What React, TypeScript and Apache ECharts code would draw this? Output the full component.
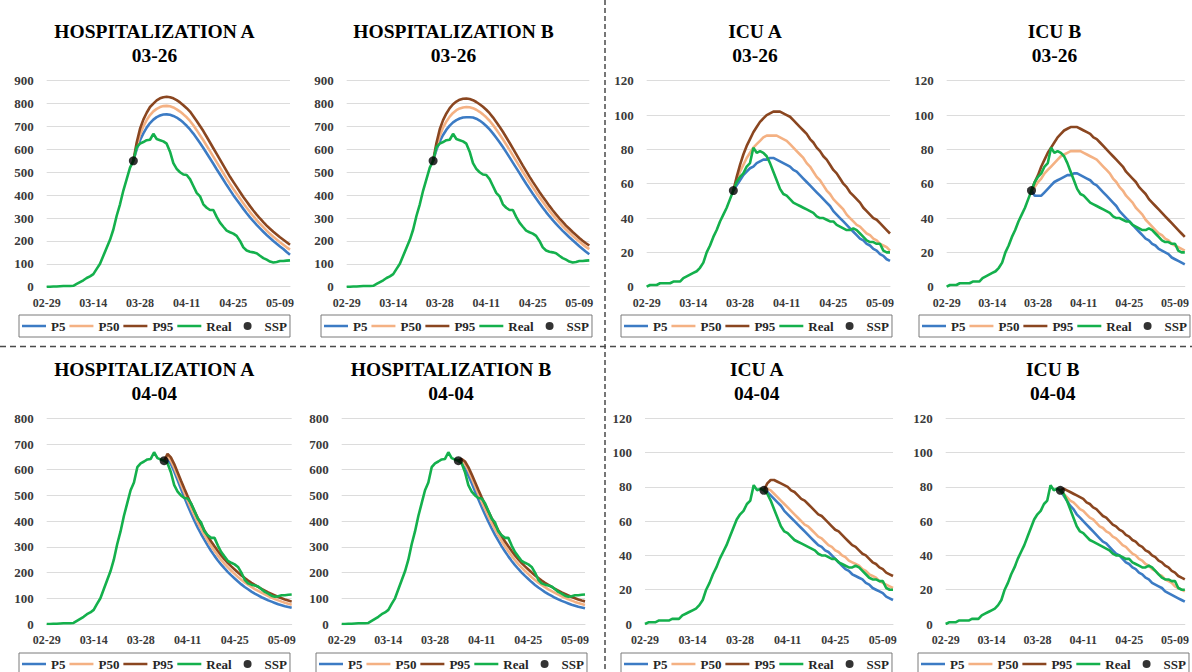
import React, { useEffect, useRef } from "react";
import * as echarts from "echarts";

const dates = [
  "02-29",
  "03-01","03-02","03-03","03-04","03-05","03-06","03-07","03-08","03-09","03-10",
  "03-11","03-12","03-13","03-14","03-15","03-16","03-17","03-18","03-19","03-20",
  "03-21","03-22","03-23","03-24","03-25","03-26","03-27","03-28","03-29","03-30","03-31",
  "04-01","04-02","04-03","04-04","04-05","04-06","04-07","04-08","04-09","04-10",
  "04-11","04-12","04-13","04-14","04-15","04-16","04-17","04-18","04-19","04-20",
  "04-21","04-22","04-23","04-24","04-25","04-26","04-27","04-28","04-29","04-30",
  "05-01","05-02","05-03","05-04","05-05","05-06","05-07","05-08","05-09","05-10","05-11","05-12",
];

const realHosp = [
  0, 0, 1, 1, 2, 3, 3, 3, 4, 12,
  20, 28, 38, 45, 55, 78, 100, 135, 170, 205,
  250, 310, 360, 420, 470, 520, 550, 610, 625, 632,
  640, 642, 668, 645, 640, 635, 625, 590, 540, 515,
  500, 490, 488, 470, 440, 410, 395, 360, 345, 335,
  335, 305, 280, 262, 245, 238, 232, 222, 200, 172,
  158, 153, 150, 146, 135, 125, 118, 110, 106, 108,
  112, 112, 114, 115,
];

const realICU = [
  0, 1, 1, 1, 2, 2, 2, 2, 3, 3,
  3, 5, 6, 7, 8, 9, 11, 14, 20, 24,
  29, 33, 38, 42, 46, 51, 56, 61, 64, 66,
  70, 72, 81, 78, 79, 78, 76, 72, 67, 62,
  57, 54, 53, 51, 49, 48, 47, 46, 45, 44,
  43, 41, 40, 40, 39, 38, 38, 36, 35, 34,
  33, 33, 34, 33, 31, 29, 27, 26, 26, 25,
  25, 21, 20, 20,
];

// Projections issued on 03-26 (values from 03-26 to 05-12)
const hospA1_P5 = [550,600,640,670,695,715,730,741,748,752,753,751,746,739,729,717,703,687,669,649,628,606,583,560,537,513,490,467,444,422,400,380,360,340,321,303,286,270,255,240,226,213,200,188,176,165,152,140];
const hospA1_P50 = [550,615,665,700,728,750,766,777,785,789,790,788,783,775,765,753,740,724,705,684,662,640,616,592,568,544,520,496,472,449,427,406,385,365,345,326,308,291,275,260,245,231,218,206,194,183,172,162];
const hospA1_P95 = [550,630,690,730,760,785,800,814,823,828,830,828,823,815,805,793,780,765,745,724,702,680,655,630,605,580,555,530,505,480,458,436,414,392,372,352,333,315,298,282,267,253,240,228,216,205,194,183];

const hospB1_P5 = [550,598,635,663,686,704,718,728,735,739,740,740,739,734,726,715,702,687,670,651,631,610,588,565,542,519,496,473,450,428,406,385,365,345,326,308,291,275,259,244,230,216,203,190,177,165,153,142];
const hospB1_P50 = [550,612,660,695,722,743,759,771,779,783,785,784,780,773,764,753,740,725,707,687,666,644,621,598,574,550,526,502,479,456,434,412,391,371,351,332,314,297,281,265,250,236,222,209,197,185,174,164];
const hospB1_P95 = [550,628,688,728,757,780,797,809,817,821,822,820,815,807,797,786,773,758,740,720,699,677,653,629,604,579,554,529,505,481,458,436,414,393,373,353,334,316,299,283,267,253,239,226,213,201,190,180];

const icuA1_P5 = [56,59,62,65,67,69,70,72,73,74,74,75,75,74,73,72,71,70,68,67,65,63,61,59,57,55,53,51,49,47,44,42,40,38,36,34,32,30,28,27,25,24,22,21,19,18,16,15];
const icuA1_P50 = [56,62,67,71,75,78,81,83,85,87,88,88,88,88,87,86,85,83,81,79,77,75,72,70,67,64,62,59,56,54,51,49,47,45,42,40,38,36,35,33,31,30,28,27,25,24,23,21];
const icuA1_P95 = [56,64,71,77,82,86,90,93,96,98,100,101,102,102,102,101,100,99,97,95,93,91,89,86,84,81,79,76,74,71,68,66,63,60,58,55,53,51,49,46,44,42,40,39,37,35,33,31];

const icuB1_P5 = [56,53,53,53,55,57,59,61,62,63,64,65,65,66,66,65,64,63,62,60,59,57,55,53,51,49,47,44,42,40,38,36,34,32,30,28,27,25,24,22,21,20,19,17,16,15,14,13];
const icuB1_P50 = [56,58,61,63,66,68,70,72,74,76,77,78,79,79,79,79,78,77,76,75,74,72,70,68,66,63,61,58,56,53,51,49,46,44,42,39,37,35,33,31,30,28,27,25,24,23,22,21];
const icuB1_P95 = [56,61,65,70,74,78,81,84,87,89,91,92,93,93,93,92,91,90,89,87,86,84,82,80,78,76,74,72,70,67,65,63,61,58,56,54,51,49,47,45,43,41,39,37,35,33,31,29];

// Projections issued on 04-04 (values from 04-04 to 05-12)
const hospA2_P5 = [635,640,622,593,560,526,493,461,431,402,375,350,327,305,284,265,247,231,216,202,189,177,165,154,144,135,126,118,111,104,98,92,87,82,77,73,69,66,63];
const hospA2_P50 = [635,650,635,608,576,543,511,480,450,422,395,370,346,324,303,284,266,249,234,220,207,195,183,172,162,153,144,136,129,122,115,109,103,97,92,87,83,79,75];
const hospA2_P95 = [635,662,648,622,590,558,527,497,468,440,413,388,364,342,321,302,284,267,251,237,224,212,200,189,179,169,160,152,144,137,130,123,117,111,105,100,95,91,87];

const hospB2_P5 = [635,625,605,578,548,516,485,455,426,398,372,347,324,302,282,263,245,229,214,200,187,175,163,152,142,133,124,116,109,102,96,90,85,80,75,71,67,64,61];
const hospB2_P50 = [635,635,622,598,568,537,506,476,447,419,393,368,345,323,302,283,265,248,233,219,206,194,182,171,161,152,143,135,128,121,114,108,102,96,91,86,82,78,74];
const hospB2_P95 = [635,642,632,610,582,552,522,493,465,438,412,387,364,342,321,302,284,267,251,237,224,212,200,189,179,169,160,152,144,137,130,123,117,111,105,100,95,91,88];

const icuA2_P5 = [78,77,75,73,71,69,66,64,62,60,58,56,54,52,50,48,46,45,43,42,40,38,36,34,32,31,29,28,27,26,24,23,21,20,19,18,16,15,14];
const icuA2_P50 = [78,79,78,76,74,72,70,68,66,64,62,60,58,57,55,53,51,50,48,46,45,43,42,40,39,37,36,35,34,32,31,29,28,27,25,24,23,22,21];
const icuA2_P95 = [78,82,84,84,83,82,81,80,78,77,75,73,72,70,68,66,64,63,61,59,57,55,54,52,50,48,46,45,43,41,40,38,36,35,33,32,30,29,28];

const icuB2_P5 = [78,75,72,69,67,64,62,60,58,56,54,52,50,48,47,45,43,41,40,38,36,35,33,32,30,29,27,26,24,23,22,21,19,18,17,16,15,14,13];
const icuB2_P50 = [78,76,74,72,71,69,67,66,64,62,61,59,57,56,54,53,51,50,48,46,45,43,41,40,38,37,35,34,32,31,29,28,26,25,24,22,21,20,19];
const icuB2_P95 = [78,79,78,77,76,75,74,73,71,70,68,67,65,63,62,60,58,57,55,54,52,51,49,48,46,45,43,42,40,39,37,36,34,33,31,30,28,27,26];

const legendNames = ["P5", "P50", "P95", "Real", "SSP"];
const xTickStep = 14;

const COLORS: Record<string, string> = {
  P5: "#3c7bc4",
  P50: "#f4b183",
  P95: "#8a4620",
  Real: "#14b04c",
  SSP: "#000000",
};

// legend icons: a 24x8 box holding either a centred bar or a centred dot
const LINE_ICON = "path://M0,0L0.001,0M0,8L0.001,8M0,2.7L24,2.7L24,5.3L0,5.3Z";
const DOT_ICON = "path://M0,4L0.001,4M24,4L23.999,4M8,4A4,4 0 1 1 16,4A4,4 0 1 1 8,4Z";

type Panel = {
  title: string;
  date: string;
  real: number[];
  p5: number[];
  p50: number[];
  p95: number[];
  sspValue: number;
  yMax: number;
  yInterval: number;
  layout: { left: number; top: number; width: number; height: number; titleX: number; titleY: number; legendLeft: number; legendTop: number };
};

const panels: Panel[] = [
  { title: "HOSPITALIZATION A", date: "03-26", real: realHosp, p5: hospA1_P5, p50: hospA1_P50, p95: hospA1_P95, sspValue: 550, yMax: 900, yInterval: 100,
    layout: { left: 46.7, top: 80.7, width: 243.3, height: 206, titleX: 154.5, titleY: 31.7, legendLeft: 19, legendTop: 315 } },
  { title: "HOSPITALIZATION B", date: "03-26", real: realHosp, p5: hospB1_P5, p50: hospB1_P50, p95: hospB1_P95, sspValue: 550, yMax: 900, yInterval: 100,
    layout: { left: 346.7, top: 80.7, width: 242.6, height: 206, titleX: 453.5, titleY: 31.7, legendLeft: 321, legendTop: 315 } },
  { title: "ICU A", date: "03-26", real: realICU, p5: icuA1_P5, p50: icuA1_P50, p95: icuA1_P95, sspValue: 56, yMax: 120, yInterval: 20,
    layout: { left: 646.7, top: 80.7, width: 243.3, height: 206, titleX: 755, titleY: 31.7, legendLeft: 621, legendTop: 315 } },
  { title: "ICU B", date: "03-26", real: realICU, p5: icuB1_P5, p50: icuB1_P50, p95: icuB1_P95, sspValue: 56, yMax: 120, yInterval: 20,
    layout: { left: 946.7, top: 80.7, width: 240, height: 206, titleX: 1054.5, titleY: 31.7, legendLeft: 919, legendTop: 315 } },
  { title: "HOSPITALIZATION A", date: "04-04", real: realHosp, p5: hospA2_P5, p50: hospA2_P50, p95: hospA2_P95, sspValue: 635, yMax: 800, yInterval: 100,
    layout: { left: 46.7, top: 418.3, width: 245, height: 205.7, titleX: 154.3, titleY: 369.5, legendLeft: 19, legendTop: 653 } },
  { title: "HOSPITALIZATION B", date: "04-04", real: realHosp, p5: hospB2_P5, p50: hospB2_P50, p95: hospB2_P95, sspValue: 635, yMax: 800, yInterval: 100,
    layout: { left: 341.7, top: 418.3, width: 243.3, height: 205.7, titleX: 451, titleY: 369.5, legendLeft: 316, legendTop: 653 } },
  { title: "ICU A", date: "04-04", real: realICU, p5: icuA2_P5, p50: icuA2_P50, p95: icuA2_P95, sspValue: 78, yMax: 120, yInterval: 20,
    layout: { left: 645, top: 418.3, width: 248, height: 205.7, titleX: 756.7, titleY: 369.5, legendLeft: 621, legendTop: 653 } },
  { title: "ICU B", date: "04-04", real: realICU, p5: icuB2_P5, p50: icuB2_P50, p95: icuB2_P95, sspValue: 78, yMax: 120, yInterval: 20,
    layout: { left: 945.7, top: 418.3, width: 239.5, height: 205.7, titleX: 1052.8, titleY: 369.5, legendLeft: 918, legendTop: 653 } },
];

const SERIF = "'Liberation Serif', 'Times New Roman', serif";

function fromDate(values: number[], start: string) {
  const s = dates.indexOf(start);
  return dates.map((_, i) => (i < s || i - s >= values.length ? "-" : values[i - s]));
}

function buildOption() {
  const grid: any[] = [];
  const xAxis: any[] = [];
  const yAxis: any[] = [];
  const series: any[] = [];
  const legend: any[] = [];
  const graphic: any[] = [];

  panels.forEach((p, k) => {
    const L = p.layout;
    grid.push({ left: L.left, top: L.top, width: L.width, height: L.height, containLabel: false });
    xAxis.push({
      type: "category",
      gridIndex: k,
      data: dates,
      boundaryGap: false,
      axisTick: { show: false },
      axisLine: { show: true, lineStyle: { color: "#d9d9d9", width: 1 } },
      axisLabel: {
        interval: xTickStep - 1,
        margin: 10,
        fontFamily: SERIF,
        fontWeight: "bold",
        fontSize: 12,
        color: "#3a3a3a",
      },
      splitLine: { show: false },
    });
    yAxis.push({
      type: "value",
      gridIndex: k,
      min: 0,
      max: p.yMax,
      interval: p.yInterval,
      axisLine: { show: false },
      axisTick: { show: false },
      axisLabel: { margin: 13, fontFamily: SERIF, fontWeight: "bold", fontSize: 13, color: "#3a3a3a" },
      splitLine: { show: true, lineStyle: { color: "#dcdcdc", width: 1 } },
    });
    const mk = (name: string, data: any[], color: string) => ({
      type: "line",
      name,
      xAxisIndex: k,
      yAxisIndex: k,
      data,
      symbol: "none",
      showSymbol: false,
      smooth: false,
      lineStyle: { color, width: 2.6 },
      itemStyle: { color },
      emphasis: { disabled: true },
      silent: true,
    });
    series.push(mk("P5", fromDate(p.p5, p.date), COLORS.P5));
    series.push(mk("P50", fromDate(p.p50, p.date), COLORS.P50));
    series.push(mk("P95", fromDate(p.p95, p.date), COLORS.P95));
    series.push(mk("Real", p.real, COLORS.Real));
    series.push({
      type: "scatter",
      name: "SSP",
      xAxisIndex: k,
      yAxisIndex: k,
      data: [[p.date, p.sspValue]],
      symbol: "circle",
      symbolSize: 9,
      itemStyle: { color: COLORS.SSP },
      silent: true,
      z: 5,
    });
    legend.push({
      data: legendNames.map((n) => ({
        name: n,
        icon: n === "SSP" ? DOT_ICON : LINE_ICON,
        itemStyle: { color: COLORS[n], borderWidth: 0 },
      })),
      left: L.legendLeft,
      top: L.legendTop,
      orient: "horizontal",
      itemWidth: 24,
      itemHeight: 8,
      itemGap: 4,
      padding: [4, 3],
      borderColor: "#7a7a7a",
      borderWidth: 1,
      selectedMode: false,
      textStyle: { fontFamily: SERIF, fontWeight: "bold", fontSize: 13, color: "#262626", lineHeight: 14 },
    });
    graphic.push({
      type: "text",
      x: L.titleX,
      y: L.titleY,
      style: { text: p.title, fontFamily: SERIF, fontWeight: "bold", fontSize: 19.5, fill: "#000", align: "center", verticalAlign: "middle" },
      silent: true,
    });
    graphic.push({
      type: "text",
      x: L.titleX,
      y: L.titleY + 23.5,
      style: { text: p.date, fontFamily: SERIF, fontWeight: "bold", fontSize: 19.5, fill: "#000", align: "center", verticalAlign: "middle" },
      silent: true,
    });
  });

  graphic.push({
    type: "line",
    shape: { x1: 605, y1: 0, x2: 605, y2: 672 },
    style: { stroke: "#4a4a4a", lineWidth: 1.5, lineDash: [5, 3] },
    silent: true,
  });
  graphic.push({
    type: "line",
    shape: { x1: 0, y1: 346.5, x2: 1192, y2: 346.5 },
    style: { stroke: "#4a4a4a", lineWidth: 1.5, lineDash: [6, 4] },
    silent: true,
  });

  return {
    animation: false,
    backgroundColor: "#ffffff",
    grid,
    xAxis,
    yAxis,
    series,
    legend,
    graphic,
  };
}

export default function App() {
  const ref = useRef<HTMLDivElement>(null);
  useEffect(() => {
    document.body.style.margin = "0";
    if (!ref.current) return;
    const chart = echarts.init(ref.current, undefined, { renderer: "svg" });
    chart.setOption(buildOption() as any);
    return () => chart.dispose();
  }, []);
  return <div ref={ref} style={{ position: "absolute", left: 0, top: 0, width: 1192, height: 672 }} />;
}
